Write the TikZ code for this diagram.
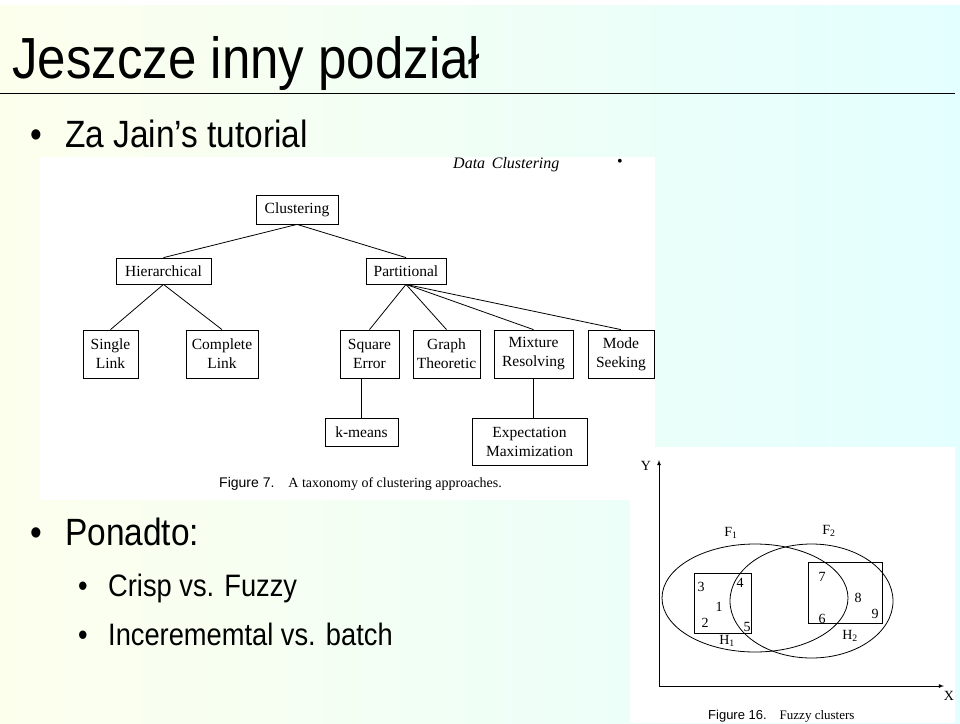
\documentclass[tikz,border=0pt]{standalone}
\usepackage{fontspec}
\setmainfont{Liberation Serif}
\setsansfont{Liberation Sans}
\begin{document}
\begin{tikzpicture}[x=1pt,y=-1pt,
  slide/.style={font=\sffamily, anchor=base west, inner sep=0pt, xscale=0.88},
  box/.style={draw, thick, font=\fontsize{15.5}{19}\selectfont, align=center, inner sep=0pt},
  lbl/.style={font=\fontsize{14}{15}\selectfont, inner sep=0pt},
  edge/.style={thick}]
\useasboundingbox (0,0) rectangle (960,723);
\shade[left color=green!9!yellow!7!white, right color=cyan!11!white] (0,5) rectangle (960,723);
\fill[white] (0,0) rectangle (960,5);
\draw[thick] (0,93) -- (955,93);
% slide text
\node[slide, font=\sffamily\fontsize{58}{60}\selectfont] (title) at (12,78) {Jeszcze inny podział};
\node[slide, font=\sffamily\fontsize{38}{40}\selectfont] (b1) at (30,147) {•};
\node[slide, font=\sffamily\fontsize{38}{40}\selectfont] (t1) at (65,147) {Za Jain’s tutorial};
\node[slide, font=\sffamily\fontsize{38}{40}\selectfont] (b2) at (30,545) {•};
\node[slide, font=\sffamily\fontsize{38}{40}\selectfont] (t2) at (65,545) {Ponadto:};
\node[slide, font=\sffamily\fontsize{31}{34}\selectfont] (b3) at (78,596) {•};
\node[slide, font=\sffamily\fontsize{31}{34}\selectfont] (t3) at (108,596) {Crisp vs. Fuzzy};
\node[slide, font=\sffamily\fontsize{31}{34}\selectfont] (b4) at (78,645) {•};
\node[slide, font=\sffamily\fontsize{31}{34}\selectfont] (t4) at (108,645) {Incerememtal vs. batch};
% figure 7
\fill[white] (40,157) rectangle (655,500);
\node[font=\itshape\fontsize{16}{16}\selectfont, anchor=base west, inner sep=0pt] (dc) at (453,168) {Data\, Clustering};
\node[font=\fontsize{16}{16}\selectfont, inner sep=0pt] (dot) at (620,163) {•};
\node[box, minimum width=82, minimum height=29] (cl) at (297,209.5) {Clustering};
\node[box, minimum width=95, minimum height=26] (hi) at (163.5,271) {Hierarchical};
\node[box, minimum width=80, minimum height=26] (pa) at (406,271) {Partitional};
\node[box, minimum width=55, minimum height=48] (sl) at (110.5,354) {Single\\Link};
\node[box, minimum width=72, minimum height=48] (co) at (222,354) {Complete\\Link};
\node[box, minimum width=59, minimum height=48] (se) at (369.5,354) {Square\\Error};
\node[box, minimum width=67, minimum height=48] (gt) at (446.5,354) {Graph\\Theoretic};
\node[box, minimum width=79, minimum height=48] (mr) at (533.5,354) {Mixture\\Resolving};
\node[box, minimum width=66, minimum height=48] (ms) at (621,354) {Mode\\Seeking};
\node[box, minimum width=73, minimum height=28] (km) at (361.5,432) {k-means};
\node[box, minimum width=115, minimum height=47] (em) at (529.5,441.5) {Expectation\\Maximization};
\draw[edge] (cl.south) -- (hi.north);
\draw[edge] (cl.south) -- (pa.north);
\draw[edge] (hi.south) -- (sl.north);
\draw[edge] (hi.south) -- (co.north);
\foreach \c in {se,gt,mr,ms} \draw[edge] (pa.south) -- (\c.north);
\draw[edge] (se.south -| km.north) -- (km.north);
\draw[edge] (mr.south) -- (mr.south |- em.north);
\node[font=\fontsize{14}{14}\selectfont, anchor=base west, inner sep=0pt] (cap7) at (219,487) {{\sffamily Figure 7.}\quad A taxonomy of clustering approaches.};
% figure 16
\fill[white] (630,447) rectangle (955,723);
\coordinate (orig) at (659,686);
\coordinate (ytop) at (659,460);
\coordinate (xend) at (944,686);
\draw[thick,-latex] (orig) -- (ytop);
\draw[thick,-latex] (orig) -- (xend);
\node[lbl] (ylab) at (646,466) {Y};
\node[lbl] (xlab) at (949,696) {X};
\draw[thick] (755,598) ellipse [x radius=93, y radius=54];
\draw[thick] (811.5,601) ellipse [x radius=81.5, y radius=57];
\draw[thick] (694,573) rectangle (751,633);
\draw[thick] (808,562) rectangle (882,623);
\node[lbl] (f1) at (731,533) {F\textsubscript{1}};
\node[lbl] (f2) at (829,531) {F\textsubscript{2}};
\node[lbl] (h1) at (727,641) {H\textsubscript{1}};
\node[lbl] (h2) at (850,636) {H\textsubscript{2}};
\node[lbl] (n3) at (701,587) {3};
\node[lbl] (n4) at (740,583) {4};
\node[lbl] (n1) at (719,607) {1};
\node[lbl] (n2) at (705,623) {2};
\node[lbl] (n5) at (747,627) {5};
\node[lbl] (n7) at (822,577) {7};
\node[lbl] (n8) at (858,598) {8};
\node[lbl] (n6) at (822,619) {6};
\node[lbl] (n9) at (875,614) {9};
\node[font=\fontsize{13}{13}\selectfont, anchor=base west, inner sep=0pt] (cap16) at (708,719) {{\sffamily Figure 16.}\quad Fuzzy clusters};
\end{tikzpicture}
\end{document}
